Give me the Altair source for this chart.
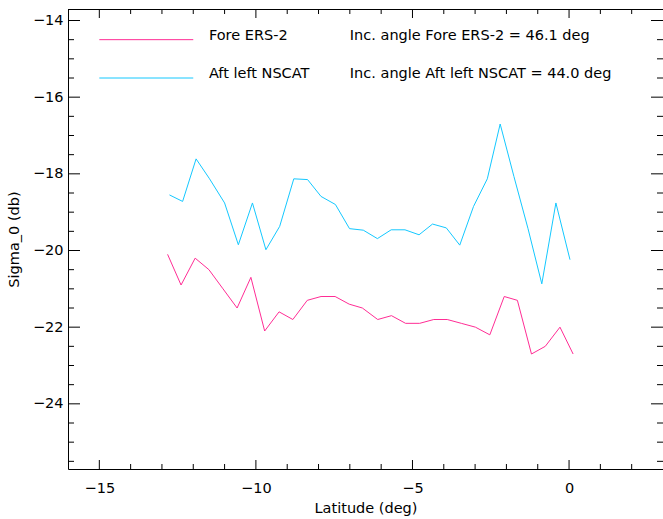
import altair as alt
import pandas as pd

# Sigma_0 profiles along latitude for the two scatterometer beams
lat_ers = [-12.82, -12.39, -11.94, -11.50, -11.05, -10.60, -10.16, -9.72, -9.26, -8.82,
           -8.36, -7.92, -7.47, -7.02, -6.60, -6.11, -5.67, -5.22, -4.77, -4.32,
           -3.89, -3.44, -2.99, -2.53, -2.07, -1.65, -1.20, -0.76, -0.29, 0.13]
sigma_ers = [-20.1, -20.9, -20.2, -20.5, -21.0, -21.5, -20.7, -22.1, -21.6, -21.8,
             -21.3, -21.2, -21.2, -21.4, -21.5, -21.8, -21.7, -21.9, -21.9, -21.8,
             -21.8, -21.9, -22.0, -22.2, -21.2, -21.3, -22.7, -22.5, -22.0, -22.7]

lat_nscat = [-12.76, -12.34, -11.91, -11.48, -11.00, -10.56, -10.11, -9.68, -9.24, -8.79,
             -8.35, -7.92, -7.46, -7.01, -6.57, -6.12, -5.68, -5.24, -4.79, -4.36,
             -3.92, -3.49, -3.05, -2.61, -2.20, -1.76, -1.31, -0.87, -0.42, 0.03]
sigma_nscat = [-18.55, -18.72, -17.61, -18.13, -18.76, -19.85, -18.76, -19.98, -19.37, -18.13,
               -18.15, -18.59, -18.80, -19.43, -19.47, -19.69, -19.46, -19.46, -19.59, -19.31,
               -19.41, -19.86, -18.85, -18.13, -16.70, -18.07, -19.43, -20.87, -18.76, -20.24]

series_names = ["Fore ERS-2", "Aft left NSCAT"]
series_colors = ["#ff2d95", "#14c8ff"]
angle_labels = ["Inc. angle Fore ERS-2 = 46.1 deg", "Inc. angle Aft left NSCAT = 44.0 deg"]

x_major = [-15, -10, -5, 0]
x_minor = [-14, -13, -12, -11, -9, -8, -7, -6, -4, -3, -2, -1, 1, 2]
y_major = [-24, -22, -20, -18, -16, -14]
y_minor = [-25.5, -25, -24.5, -23.5, -23, -22.5, -21.5, -21, -20.5, -19.5, -19,
           -18.5, -17.5, -17, -16.5, -15.5, -15, -14.5]

W, H = 595, 460
FONT = "DejaVu Sans"
FS = 14.5

x_scale = alt.Scale(domain=[-16, 3], nice=False, zero=False)
y_scale = alt.Scale(domain=[-25.7, -13.7], nice=False, zero=False)

# One axis definition per channel, shared by every layer that uses the scale
x_axis = alt.Axis(values=x_major, title="Latitude (deg)", labelPadding=12,
                  titleY=39, titleBaseline="middle", ticks=False, tickSize=0, grid=False)
y_axis = alt.Axis(values=y_major, title="Sigma_0 (db)", labelPadding=5,
                  titleX=-54, titleAngle=270, titleBaseline="middle",
                  ticks=False, tickSize=0, grid=False)

rows = []
for name, lats, sig in [(series_names[0], lat_ers, sigma_ers),
                        (series_names[1], lat_nscat, sigma_nscat)]:
    for i, (la, s) in enumerate(zip(lats, sig)):
        rows.append({"series": name, "idx": i, "lat": la, "sigma": s})
df = pd.DataFrame(rows)

lines = alt.Chart(df).mark_line(strokeWidth=1).encode(
    x=alt.X("lat:Q", scale=x_scale, axis=x_axis),
    y=alt.Y("sigma:Q", scale=y_scale, axis=y_axis),
    color=alt.Color("series:N", scale=alt.Scale(domain=series_names, range=series_colors),
                    legend=None),
    order="idx:Q",
)


def x_ticks(values, length):
    src = alt.Chart(pd.DataFrame({"v": values}))
    xv = alt.X("v:Q", scale=x_scale, axis=x_axis)
    bottom = src.mark_rule(color="black", strokeWidth=1).encode(
        x=xv, y=alt.value(H), y2=alt.value(H - length))
    top = src.mark_rule(color="black", strokeWidth=1).encode(
        x=xv, y=alt.value(0), y2=alt.value(length))
    return [bottom, top]


def y_ticks(values, length):
    src = alt.Chart(pd.DataFrame({"v": values}))
    yv = alt.Y("v:Q", scale=y_scale, axis=y_axis)
    left = src.mark_rule(color="black", strokeWidth=1).encode(
        y=yv, x=alt.value(0), x2=alt.value(length))
    right = src.mark_rule(color="black", strokeWidth=1).encode(
        y=yv, x=alt.value(W), x2=alt.value(W - length))
    return [left, right]


ticks = x_ticks(x_major, 9) + x_ticks(x_minor, 5) + y_ticks(y_major, 12) + y_ticks(y_minor, 6)

top_border = alt.Chart(pd.DataFrame({"a": [0]})).mark_rule(color="black", strokeWidth=1).encode(
    x=alt.value(0), x2=alt.value(W), y=alt.value(0.5))

# In-plot key: coloured sample line, series name and incidence angle
key_layers = []
for i, (name, col, ang) in enumerate(zip(series_names, series_colors, angle_labels)):
    src = alt.Chart(pd.DataFrame({"series": [name], "angle": [ang]}))
    yk = -14.5 - i
    key_layers.append(src.mark_rule(color=col, strokeWidth=1).encode(
        x=alt.XDatum(-15, scale=x_scale, axis=x_axis),
        x2=alt.X2Datum(-12),
        y=alt.YDatum(yk, scale=y_scale, axis=y_axis)))
    key_layers.append(src.mark_text(align="left", baseline="middle", dy=-4, font=FONT,
                                    fontSize=FS, color="black").encode(
        x=alt.XDatum(-11.5, scale=x_scale, axis=x_axis),
        y=alt.YDatum(yk, scale=y_scale, axis=y_axis),
        text="series:N"))
    key_layers.append(src.mark_text(align="left", baseline="middle", dy=-4, font=FONT,
                                    fontSize=FS, color="black").encode(
        x=alt.XDatum(-7, scale=x_scale, axis=x_axis),
        y=alt.YDatum(yk, scale=y_scale, axis=y_axis),
        text="angle:N"))

chart = alt.layer(lines, top_border, *ticks, *key_layers).properties(
    width=W,
    height=H,
    padding={"left": 68, "top": 9, "right": 0, "bottom": 50},
    autosize=alt.AutoSizeParams(type="none"),
    background="white",
).configure_view(stroke=None).configure_axis(
    domainColor="black",
    domainWidth=1,
    labelFont=FONT,
    labelFontSize=FS,
    labelColor="black",
    titleFont=FONT,
    titleFontSize=FS,
    titleFontWeight="normal",
    titleColor="black",
)

chart.save("out.html", embed_options={"renderer": "svg", "actions": False})
